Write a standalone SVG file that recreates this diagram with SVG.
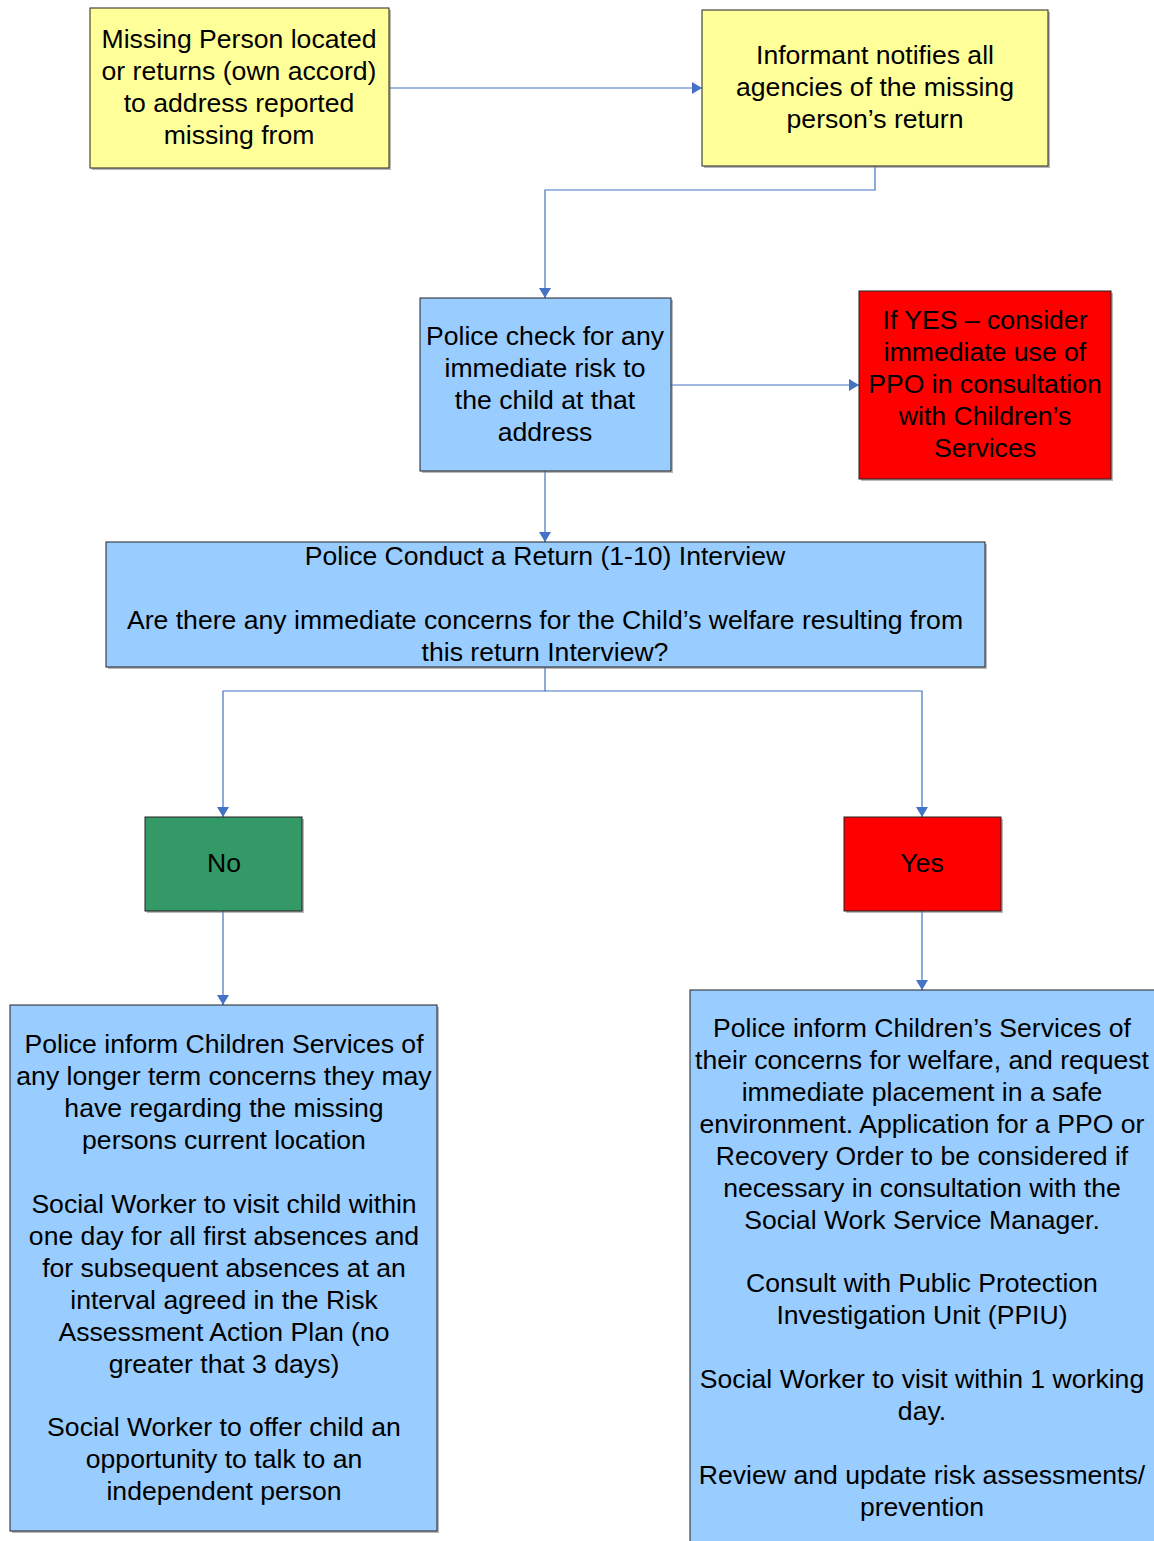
<svg xmlns="http://www.w3.org/2000/svg" width="1154" height="1541" viewBox="0 0 1154 1541">
<style>
.box{stroke:#222;stroke-width:1}
.sh{fill:#888;opacity:0.6}
.y{fill:#FFFF99}
.b{fill:#99CCFF}
.r{fill:#FF0000}
.g{fill:#339966}
text{font-family:"Liberation Sans",Arial,sans-serif;font-size:26.6px;fill:#000;text-anchor:middle}
.c{fill:none;stroke:#4472C4;stroke-width:1.2}
</style>
<defs>
<marker id="ah" viewBox="0 0 10 12" refX="10" refY="6" markerWidth="10" markerHeight="12" markerUnits="userSpaceOnUse" orient="auto">
<path d="M0,0 L10,6 L0,12 z" fill="#4472C4"/>
</marker>
</defs>
<rect width="1154" height="1541" fill="#fff"/>
<g id="connectors">
<path class="c" d="M389,88 H702" marker-end="url(#ah)"/>
<path class="c" d="M875,166 V190 H545 V298" marker-end="url(#ah)"/>
<path class="c" d="M671,385 H859" marker-end="url(#ah)"/>
<path class="c" d="M545,471 V542" marker-end="url(#ah)"/>
<path class="c" d="M545,667 V691 H223 V817" marker-end="url(#ah)"/>
<path class="c" d="M545,691 H922 V817" marker-end="url(#ah)"/>
<path class="c" d="M223,911 V1005" marker-end="url(#ah)"/>
<path class="c" d="M922,911 V990" marker-end="url(#ah)"/>
</g>
<g id="n1">
<rect class="sh" x="92" y="10" width="299" height="160"/>
<rect class="box y" x="90" y="8" width="299" height="160"/>
<text x="239" y="48">Missing Person located</text>
<text x="239" y="80">or returns (own accord)</text>
<text x="239" y="112">to address reported</text>
<text x="239" y="144">missing from</text>
</g>
<g id="n2">
<rect class="sh" x="704" y="12" width="346" height="156"/>
<rect class="box y" x="702" y="10" width="346" height="156"/>
<text x="875" y="64">Informant notifies all</text>
<text x="875" y="96">agencies of the missing</text>
<text x="875" y="128">person’s return</text>
</g>
<g id="n3">
<rect class="sh" x="422" y="300" width="251" height="173"/>
<rect class="box b" x="420" y="298" width="251" height="173"/>
<text x="545" y="345">Police check for any</text>
<text x="545" y="377">immediate risk to</text>
<text x="545" y="409">the child at that</text>
<text x="545" y="441">address</text>
</g>
<g id="n4">
<rect class="sh" x="861" y="293" width="252" height="188"/>
<rect class="box r" x="859" y="291" width="252" height="188"/>
<text x="985" y="329">If YES – consider</text>
<text x="985" y="361">immediate use of</text>
<text x="985" y="393">PPO in consultation</text>
<text x="985" y="425">with Children’s</text>
<text x="985" y="457">Services</text>
</g>
<g id="n5">
<rect class="sh" x="108" y="544" width="879" height="125"/>
<rect class="box b" x="106" y="542" width="879" height="125"/>
<text x="545" y="565">Police Conduct a Return (1-10) Interview</text>
<text x="545" y="629">Are there any immediate concerns for the Child’s welfare resulting from</text>
<text x="545" y="661">this return Interview?</text>
</g>
<g id="n6">
<rect class="sh" x="147" y="819" width="157" height="94"/>
<rect class="box g" x="145" y="817" width="157" height="94"/>
<text x="224" y="872">No</text>
</g>
<g id="n7">
<rect class="sh" x="846" y="819" width="157" height="94"/>
<rect class="box r" x="844" y="817" width="157" height="94"/>
<text x="922" y="872">Yes</text>
</g>
<g id="n8">
<rect class="sh" x="12" y="1007" width="427" height="526"/>
<rect class="box b" x="10" y="1005" width="427" height="526"/>
<text x="224" y="1053">Police inform Children Services of</text>
<text x="224" y="1085">any longer term concerns they may</text>
<text x="224" y="1117">have regarding the missing</text>
<text x="224" y="1149">persons current location</text>
<text x="224" y="1213">Social Worker to visit child within</text>
<text x="224" y="1245">one day for all first absences and</text>
<text x="224" y="1277">for subsequent absences at an</text>
<text x="224" y="1309">interval agreed in the Risk</text>
<text x="224" y="1341">Assessment Action Plan (no</text>
<text x="224" y="1373">greater that 3 days)</text>
<text x="224" y="1436">Social Worker to offer child an</text>
<text x="224" y="1468">opportunity to talk to an</text>
<text x="224" y="1500">independent person</text>
</g>
<g id="n9">
<rect class="box b" x="690" y="990" width="470" height="560"/>
<text x="922" y="1037">Police inform Children’s Services of</text>
<text x="922" y="1069">their concerns for welfare, and request</text>
<text x="922" y="1101">immediate placement in a safe</text>
<text x="922" y="1133">environment. Application for a PPO or</text>
<text x="922" y="1165">Recovery Order to be considered if</text>
<text x="922" y="1197">necessary in consultation with the</text>
<text x="922" y="1229">Social Work Service Manager.</text>
<text x="922" y="1292">Consult with Public Protection</text>
<text x="922" y="1324">Investigation Unit (PPIU)</text>
<text x="922" y="1388">Social Worker to visit within 1 working</text>
<text x="922" y="1420">day.</text>
<text x="922" y="1484">Review and update risk assessments/</text>
<text x="922" y="1516">prevention</text>
</g>
</svg>
